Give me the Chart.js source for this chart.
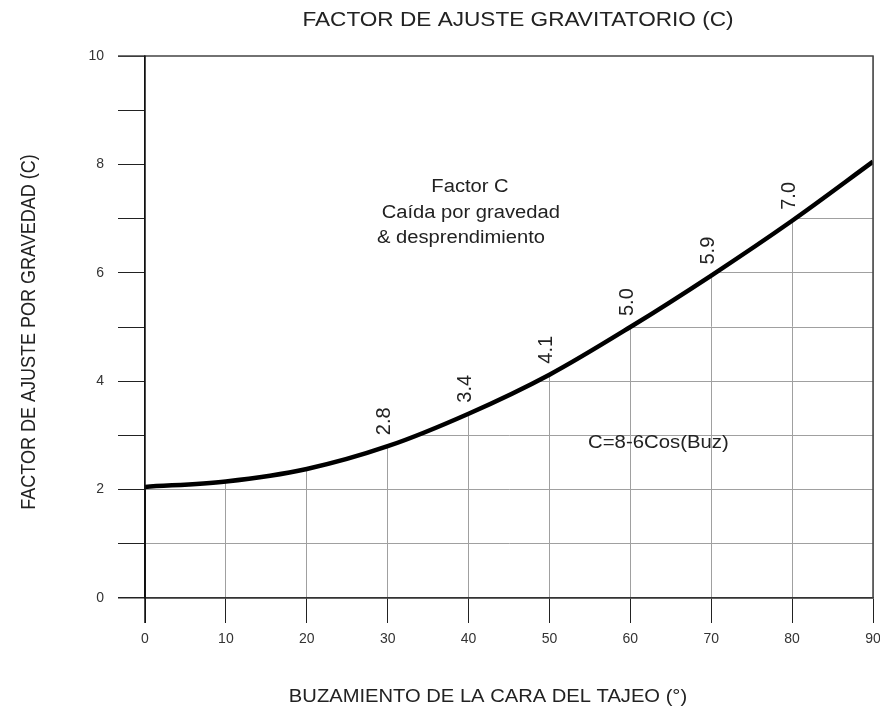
<!DOCTYPE html>
<html>
<head>
<meta charset="utf-8">
<script src="https://cdn.jsdelivr.net/npm/chart.js@4.4.1/dist/chart.umd.min.js"></script>
<style>
  html, body { margin: 0; padding: 0; background: #fff; }
  #wrap { width: 880px; height: 716px; }
</style>
</head>
<body>
<div id="wrap"><canvas id="factorChart" width="880" height="716"></canvas></div>
<script>
// datos
var buzamiento = [0, 10, 20, 30, 40, 50, 60, 70, 80, 90];
var factorC = [2.05, 2.15, 2.38, 2.8, 3.4, 4.12, 5.0, 5.95, 6.96, 8.05];
var etiquetasX = [30, 40, 50, 60, 70, 80];
var etiquetasValor = ['2.8', '3.4', '4.1', '5.0', '5.9', '7.0'];
var ticksY = ['0', '2', '4', '6', '8', '10'];

var tituloPrincipal = 'FACTOR DE AJUSTE GRAVITATORIO (C)';
var tituloX = 'BUZAMIENTO DE LA CARA DEL TAJEO (°)';
var tituloY = 'FACTOR DE AJUSTE POR GRAVEDAD (C)';
var notaFactor = ['Factor C', ' Caída por gravedad', '& desprendimiento'];
var formula = 'C=8-6Cos(Buz)';

var puntos = buzamiento.map(function (b, i) { return { x: b, y: factorC[i] }; });

var fuente = '"Liberation Sans", Arial, sans-serif';
var fuenteEje = '"Liberation Sans Narrow", "Liberation Sans", Arial, sans-serif';

// texto algo ensanchado como en la imagen original
function texto(ctx, t, x, y, size, ancho, giro) {
    ctx.save();
    ctx.translate(x, y);
    if (giro) ctx.rotate(-Math.PI / 2);
    ctx.scale(giro ? 1 : ancho, giro ? ancho : 1);
    ctx.font = size + 'px ' + fuente;
    ctx.fillText(t, 0, 0);
    ctx.restore();
}

// textos y marco encima del relleno blanco
var textos = {
    id: 'textos',
    afterDatasetsDraw: function (chart) {
        var ctx = chart.ctx;
        var a = chart.chartArea;
        var sx = chart.scales.x, sy = chart.scales.y;
        ctx.save();
        // marco superior y derecho
        ctx.strokeStyle = '#444';
        ctx.lineWidth = 1.5;
        ctx.beginPath();
        ctx.moveTo(a.left - 27, a.top);
        ctx.lineTo(a.right, a.top);
        ctx.lineTo(a.right, a.bottom);
        ctx.stroke();
        ctx.strokeStyle = '#111';
        ctx.beginPath();
        ctx.moveTo(a.left, a.top);
        ctx.lineTo(a.left, a.bottom + 25);
        ctx.stroke();

        ctx.fillStyle = '#222';
        ctx.textAlign = 'center';
        ctx.textBaseline = 'middle';
        texto(ctx, tituloPrincipal, 518, 20, 20, 1.13);
        texto(ctx, tituloX, 488, 697, 18, 1.12);
        texto(ctx, tituloY, 30, (a.top + a.bottom) / 2 + 5, 18, 1.1, true);

        texto(ctx, notaFactor[0], 470, 187, 18, 1.12);
        texto(ctx, notaFactor[1], 468, 213, 18, 1.12);
        texto(ctx, notaFactor[2], 461, 238, 18, 1.12);
        ctx.textAlign = 'left';
        texto(ctx, formula, 588, 443, 18, 1.13);

        // valores rotados sobre la curva
        etiquetasX.forEach(function (b, i) {
            var idx = buzamiento.indexOf(b);
            var px = sx.getPixelForValue(b) - 3;
            var py = sy.getPixelForValue(factorC[idx]) - 11;
            texto(ctx, etiquetasValor[i], px, py, 20, 1, true);
        });
        ctx.restore();
    }
};

var grafico = new Chart(document.getElementById('factorChart'), {
    type: 'line',
    data: {
        datasets: [{
            data: puntos,
            borderColor: '#000',
            borderWidth: 4.5,
            backgroundColor: '#fff',
            fill: 'end',
            pointRadius: 0,
            cubicInterpolationMode: 'monotone'
        }]
    },
    options: {
        responsive: false,
        animation: false,
        layout: { padding: { top: 56, right: 0, left: 0, bottom: 0 } },
        plugins: { legend: { display: false }, tooltip: { enabled: false } },
        scales: {
            x: {
                type: 'linear',
                min: 0,
                max: 90,
                afterFit: function (s) { s.height = 118; s.paddingLeft = 0; s.paddingRight = 7; },
                border: { display: true, color: '#333', width: 1.5 },
                grid: {
                    color: function (c) { return c.tick.value === 0 ? '#333' : '#a0a0a0'; },
                    tickColor: '#222',
                    tickLength: 25,
                    lineWidth: 1
                },
                ticks: {
                    stepSize: 10,
                    padding: 8,
                    color: '#333',
                    font: { family: fuenteEje, size: 14 }
                }
            },
            y: {
                min: 0,
                max: 10,
                afterFit: function (s) { s.width = 145; },
                border: { display: true, color: '#111', width: 1.5 },
                grid: {
                    color: function (c) { return (c.tick.value === 0 || c.tick.value === 10) ? '#333' : '#a0a0a0'; },
                    tickColor: '#222',
                    tickLength: 27,
                    lineWidth: function (c) { return c.tick.value === 0 ? 1.5 : 1; }
                },
                ticks: {
                    stepSize: 1,
                    padding: 14,
                    color: '#333',
                    font: { family: fuenteEje, size: 14 },
                    callback: function (v) { return ticksY.indexOf(String(v)) >= 0 ? String(v) : ''; }
                }
            }
        }
    },
    plugins: [textos]
});
</script>
</body>
</html>
